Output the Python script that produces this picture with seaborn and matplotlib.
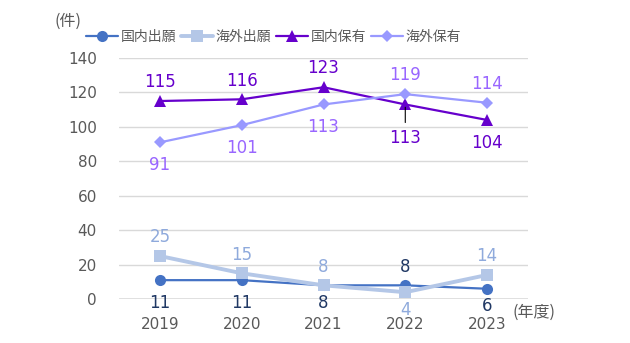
import matplotlib
matplotlib.use("Agg")
import matplotlib.pyplot as plt
import seaborn as sns
import pandas as pd

years = ["2019", "2020", "2021", "2022", "2023"]
series_names = ["国内出願", "海外出願", "国内保有", "海外保有"]
domestic_app = [11, 11, 8, 8, 6]
foreign_app = [25, 15, 8, 4, 14]
domestic_hold = [115, 116, 123, 113, 104]
foreign_hold = [91, 101, 113, 119, 114]
yticks = [0, 20, 40, 60, 80, 100, 120, 140]

sns.set_theme(style="white")
plt.rcParams["font.family"] = ["DejaVu Sans", "Noto Sans CJK JP"]
CJK = ["Noto Sans CJK JP", "DejaVu Sans"]

fig = plt.figure(figsize=(6.3, 3.43), dpi=100)
ax = fig.add_axes([0.189, 0.128, 0.649, 0.703])

styles = [
    dict(values=domestic_app, color="#4472C4", marker="o", ms=8, lw=1.6, lc="#203864",
         pos=["b", "b", "b", "a", "b"]),
    dict(values=foreign_app, color="#B4C7E7", marker="s", ms=9, lw=2.8, lc="#8FAADC",
         pos=["a", "a", "a", "b", "a"]),
    dict(values=domestic_hold, color="#6600CC", marker="^", ms=8, lw=1.6, lc="#6600CC",
         pos=["a", "a", "a", "bl", "b"]),
    dict(values=foreign_hold, color="#9999FF", marker="D", ms=6.5, lw=1.6, lc="#9966FF",
         pos=["b", "b", "b", "a", "a"]),
]

for name, st in zip(series_names, styles):
    df = pd.DataFrame({"year": years, "value": st["values"]})
    sns.lineplot(data=df, x="year", y="value", ax=ax, color=st["color"], marker=st["marker"],
                 markersize=st["ms"], linewidth=st["lw"], markeredgewidth=0, label=name,
                 clip_on=False, zorder=3)

for name, st in zip(series_names, styles):
    for i, (v, p) in enumerate(zip(st["values"], st["pos"])):
        if p == "a":
            ax.annotate(str(v), (i, v), xytext=(0, 13.5), textcoords="offset points",
                        ha="center", va="center", fontsize=12, color=st["lc"])
        elif p == "b":
            off = -16.5 if v > 10 else -12.5
            ax.annotate(str(v), (i, v), xytext=(0, off), textcoords="offset points",
                        ha="center", va="center", fontsize=12, color=st["lc"])
        else:
            ax.annotate(str(v), (i, v), xytext=(0, -24), textcoords="offset points",
                        ha="center", va="center", fontsize=12, color=st["lc"])
            ax.annotate("", (i, v), xytext=(0, -13), textcoords="offset points",
                        arrowprops=dict(arrowstyle="-", color="black", lw=0.8,
                                        shrinkA=0, shrinkB=2))

ax.set_ylim(0, 140)
ax.set_xlim(-0.5, 4.5)
ax.set_yticks(yticks)
ax.yaxis.grid(True, color="#D9D9D9", linewidth=1)
ax.axhline(0, color="#D9D9D9", linewidth=1.8, zorder=1)
for s in ax.spines.values():
    s.set_visible(False)
ax.tick_params(axis="both", length=0, labelsize=11, labelcolor="#595959")
ax.tick_params(axis="y", pad=16)
ax.tick_params(axis="x", pad=13)
ax.set_xlabel("")
ax.set_ylabel("")

fig.text(54 / 630, 1 - 21 / 343, "(件)", fontsize=11.5, color="#595959", ha="left", va="center",
         family=CJK)
fig.text(512 / 630, 1 - 312 / 343, "(年度)", fontsize=11.5, color="#595959", ha="left", va="center",
         family=CJK)

leg = ax.legend(loc="center", bbox_to_anchor=(273.5 / 630, 1 - 37 / 343), bbox_transform=fig.transFigure,
                ncol=4, frameon=False, prop={"family": CJK, "size": 10}, handlelength=2.3,
                columnspacing=0.35, handletextpad=0.2, labelcolor="#595959")

fig.savefig("out.png", dpi=100)
